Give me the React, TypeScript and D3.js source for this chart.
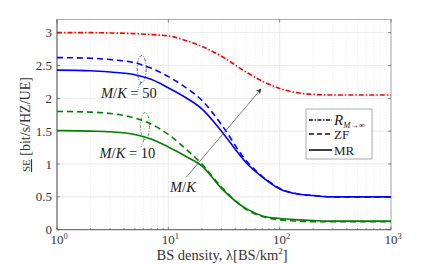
import React, { useEffect, useRef } from 'react';
import * as d3 from 'd3';

const lambdas = [1, 2, 3, 5, 7, 10, 15, 20, 30, 50, 70, 100, 150, 200, 300, 500, 1000];
const limitSE = [3.0, 3.0, 2.995, 2.985, 2.97, 2.95, 2.87, 2.79, 2.64, 2.4, 2.26, 2.15, 2.08, 2.06, 2.05, 2.05, 2.05];
const zf50 = [2.62, 2.61, 2.59, 2.54, 2.46, 2.33, 2.14, 1.97, 1.6, 1.05, 0.81, 0.63, 0.54, 0.52, 0.5, 0.5, 0.5];
const mr50 = [2.43, 2.42, 2.4, 2.36, 2.29, 2.16, 1.99, 1.84, 1.5, 1.02, 0.8, 0.62, 0.54, 0.52, 0.5, 0.5, 0.5];
const zf10 = [1.8, 1.79, 1.77, 1.7, 1.61, 1.45, 1.2, 1.0, 0.65, 0.31, 0.2, 0.15, 0.13, 0.12, 0.12, 0.12, 0.12];
const mr10 = [1.51, 1.5, 1.49, 1.45, 1.38, 1.26, 1.1, 0.97, 0.63, 0.32, 0.21, 0.17, 0.15, 0.14, 0.13, 0.13, 0.13];
const yTicks = [0, 0.5, 1, 1.5, 2, 2.5, 3];
const xDecades = [1, 10, 100, 1000];

const App = () => {
  const ref = useRef<SVGSVGElement>(null);

  useEffect(() => {
    document.body.style.margin = '0';
    const width = 432;
    const height = 265;
    const svg = d3.select(ref.current);
    svg.selectAll('*').remove();
    svg.attr('width', width).attr('height', height)
      .attr('font-family', 'Liberation Serif, DejaVu Serif, serif')
      .style('background', '#fff').style('display', 'block');

    const margin = { top: 19.5, right: 41, bottom: 35.3, left: 57 };
    const x = d3.scaleLog().domain([1, 1000]).range([margin.left, width - margin.right]);
    const y = d3.scaleLinear().domain([0, 3.2]).range([height - margin.bottom, margin.top]);
    const x0 = x.range()[0], x1 = x.range()[1];
    const y0 = y.range()[0], y1 = y.range()[1];

    // minor grid (dotted)
    const minor: number[] = [];
    for (const d of [1, 10, 100]) for (let k = 2; k <= 9; k++) minor.push(d * k);
    svg.append('g').selectAll('line').data(minor).enter().append('line')
      .attr('x1', d => x(d)).attr('x2', d => x(d)).attr('y1', y0).attr('y2', y1)
      .attr('stroke', '#d8d8d8').attr('stroke-width', 0.6).attr('stroke-dasharray', '1,2');

    // major grid
    svg.append('g').selectAll('line').data(xDecades).enter().append('line')
      .attr('x1', d => x(d)).attr('x2', d => x(d)).attr('y1', y0).attr('y2', y1)
      .attr('stroke', '#e6e6e6').attr('stroke-width', 0.8);
    svg.append('g').selectAll('line').data(yTicks).enter().append('line')
      .attr('x1', x0).attr('x2', x1).attr('y1', d => y(d)).attr('y2', d => y(d))
      .attr('stroke', '#e6e6e6').attr('stroke-width', 0.8);

    // box
    svg.append('rect').attr('x', x0).attr('y', y1).attr('width', x1 - x0).attr('height', y0 - y1)
      .attr('fill', 'none').attr('stroke', '#999').attr('stroke-width', 0.8);
    svg.append('line').attr('x1', x0).attr('x2', x1).attr('y1', y0).attr('y2', y0)
      .attr('stroke', '#555').attr('stroke-width', 0.8);
    svg.append('line').attr('x1', x0).attr('x2', x0).attr('y1', y0).attr('y2', y1)
      .attr('stroke', '#555').attr('stroke-width', 0.8);

    // ticks
    const tk = svg.append('g').attr('stroke', '#555').attr('stroke-width', 0.7);
    yTicks.forEach(t => {
      tk.append('line').attr('x1', x0).attr('x2', x0 + 3).attr('y1', y(t)).attr('y2', y(t));
      tk.append('line').attr('x1', x1).attr('x2', x1 - 3).attr('y1', y(t)).attr('y2', y(t));
    });
    xDecades.forEach(t => {
      tk.append('line').attr('x1', x(t)).attr('x2', x(t)).attr('y1', y0).attr('y2', y0 - 3);
      tk.append('line').attr('x1', x(t)).attr('x2', x(t)).attr('y1', y1).attr('y2', y1 + 3);
    });
    minor.forEach(t => {
      tk.append('line').attr('x1', x(t)).attr('x2', x(t)).attr('y1', y0).attr('y2', y0 - 1.5);
    });

    // tick labels
    svg.append('g').selectAll('text').data(yTicks).enter().append('text')
      .attr('x', x0 - 5).attr('y', d => y(d) + 4.5).attr('text-anchor', 'end')
      .attr('font-size', 13).attr('fill', '#333')
      .text(d => String(d));
    xDecades.forEach((d, i) => {
      const t = svg.append('text').attr('x', x(d) + 2).attr('y', y0 + 14).attr('text-anchor', 'middle')
        .attr('font-size', 13).attr('fill', '#333');
      t.append('tspan').text('10');
      t.append('tspan').attr('dy', -5).attr('font-size', 8.5).text(String(i));
    });

    // axis labels
    const xl = svg.append('text').attr('x', 222).attr('y', 259.5).attr('text-anchor', 'middle')
      .attr('font-size', 14.5).attr('fill', '#333');
    xl.append('tspan').text('BS density, ');
    xl.append('tspan').text('λ');
    xl.append('tspan').text('[BS/km');
    xl.append('tspan').attr('dy', -5.5).attr('font-size', 9).text('2');
    xl.append('tspan').attr('dy', 5.5).text(']');

    const yl = svg.append('text').attr('transform', `translate(30,${(y0 + y1) / 2}) rotate(-90)`)
      .attr('text-anchor', 'middle').attr('font-size', 14).attr('fill', '#333');
    yl.append('tspan').attr('font-size', 11).attr('text-decoration', 'underline').text('SE');
    yl.append('tspan').text(' [bit/s/HZ/UE]');

    // curves
    const line = (vals: number[]) => d3.line<number>()
      .x((_, i) => x(lambdas[i]))
      .y(d => y(d))
      .curve(d3.curveMonotoneX)(vals);
    const series = [
      { v: limitSE, c: '#ff0000', dash: '5,2,1.5,2' },
      { v: zf50, c: '#0000ff', dash: '6,4' },
      { v: mr50, c: '#0000ff', dash: null },
      { v: zf10, c: '#008000', dash: '6,4' },
      { v: mr10, c: '#008000', dash: null },
    ];
    series.forEach(s => {
      svg.append('path').attr('d', line(s.v)).attr('fill', 'none')
        .attr('stroke', s.c).attr('stroke-width', 1.6)
        .attr('stroke-dasharray', s.dash);
    });

    // ellipses + labels
    const ann = [
      { cx: 141.7, cy: 69, c: '#0000ff', label: '50', tx: 101, ty: 98 },
      { cx: 145, cy: 126, c: '#008000', label: '10', tx: 99.5, ty: 158 },
    ];
    ann.forEach(a => {
      svg.append('ellipse').attr('cx', a.cx).attr('cy', a.cy).attr('rx', 4.5).attr('ry', 13.5)
        .attr('fill', 'none').attr('stroke', a.c).attr('stroke-width', 0.7).attr('stroke-dasharray', '3,1.5,1,1.5');
      svg.append('line').attr('x1', a.cx - 1).attr('y1', a.cy + 13.5).attr('x2', a.cx - 4).attr('y2', a.cy + 21)
        .attr('stroke', a.c).attr('stroke-width', 0.7).attr('stroke-dasharray', '3,1.5,1,1.5');
      const t = svg.append('text').attr('x', a.tx).attr('y', a.ty)
        .attr('font-size', 14.5).attr('fill', '#222');
      t.append('tspan').attr('font-style', 'italic').text('M');
      t.append('tspan').text('/');
      t.append('tspan').attr('font-style', 'italic').text('K');
      t.append('tspan').text(' = ' + a.label);
    });

    // arrow
    svg.append('defs').append('marker').attr('id', 'ah').attr('viewBox', '0 0 10 10')
      .attr('refX', 9).attr('refY', 5).attr('markerWidth', 8).attr('markerHeight', 8)
      .attr('orient', 'auto').append('path').attr('d', 'M0,0 L10,5 L0,10 L3,5 Z').attr('fill', '#333');
    svg.append('line').attr('x1', 186.5).attr('y1', 177).attr('x2', 261).attr('y2', 89)
      .attr('stroke', '#444').attr('stroke-width', 0.7).attr('marker-end', 'url(#ah)');
    const mk = svg.append('text').attr('x', 170).attr('y', 192)
      .attr('font-size', 14.5).attr('fill', '#222');
    mk.append('tspan').attr('font-style', 'italic').text('M');
    mk.append('tspan').text('/');
    mk.append('tspan').attr('font-style', 'italic').text('K');

    // legend
    const lg = svg.append('g');
    lg.append('rect').attr('x', 306).attr('y', 109).attr('width', 66).attr('height', 50)
      .attr('fill', '#fff').attr('stroke', '#888').attr('stroke-width', 0.7);
    const items = [
      { dash: '4,1.5,1.5,1.5', y: 120 },
      { dash: '5,3', y: 134 },
      { dash: null, y: 150 },
    ];
    items.forEach(it => {
      lg.append('line').attr('x1', 309).attr('x2', 332).attr('y1', it.y).attr('y2', it.y)
        .attr('stroke', '#111').attr('stroke-width', 1.6).attr('stroke-dasharray', it.dash);
    });
    const r = lg.append('text').attr('x', 334).attr('y', 124.5)
      .attr('font-size', 15).attr('fill', '#222');
    r.append('tspan').attr('font-style', 'italic').text('R');
    r.append('tspan').attr('dy', 3).attr('font-size', 8.5).attr('font-style', 'italic').text('M');
    r.append('tspan').attr('font-size', 8.5).text('→∞');
    lg.append('text').attr('x', 334).attr('y', 138.5).attr('font-size', 13)
      .attr('fill', '#222').text('ZF');
    lg.append('text').attr('x', 334).attr('y', 154.5).attr('font-size', 13)
      .attr('fill', '#222').text('MR');
  }, []);

  return <svg ref={ref}></svg>;
};

export default App;
